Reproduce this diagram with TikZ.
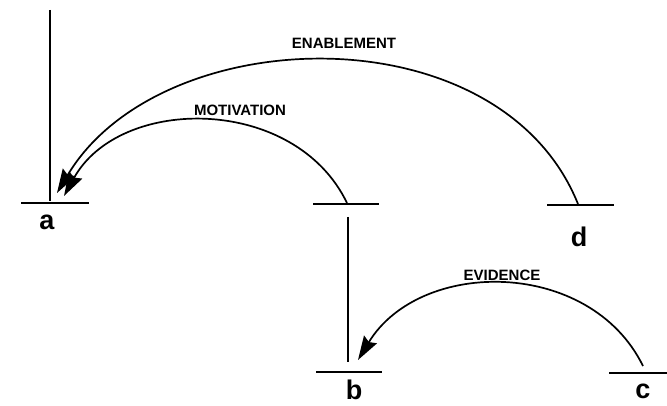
\documentclass[tikz,border=0pt]{standalone}
\usepackage{fontspec}
\setmainfont{Liberation Sans}
\usetikzlibrary{arrows.meta}
\begin{document}
\begin{tikzpicture}[x=1pt,y=-1pt,
  bar/.style={line width=1.8pt},
  stem/.style={line width=1.6pt},
  rel/.style={line width=1.7pt,-{Stealth[length=24pt,width=15pt,inset=3pt]}},
  letter/.style={font=\bfseries\fontsize{27}{27}\selectfont,anchor=base,inner sep=0pt},
  lab/.style={font=\bfseries\fontsize{15}{15}\selectfont,inner sep=0pt}]
\useasboundingbox (0,0) rectangle (667,406);
% bars
\coordinate (aL) at (21,203); \coordinate (aR) at (89,203);
\coordinate (btL) at (313,204); \coordinate (btR) at (379,204);
\coordinate (bL) at (316,372); \coordinate (bR) at (382,372);
\coordinate (cL) at (609,373); \coordinate (cR) at (667,373);
\coordinate (dL) at (547,205); \coordinate (dR) at (614,205);
\draw[bar] (aL) -- (aR);
\draw[bar] (btL) -- (btR);
\draw[bar] (bL) -- (bR);
\draw[bar] (cL) -- (cR);
\draw[bar] (dL) -- (dR);
% stems
\coordinate (aTop) at (50,10); \coordinate (aBot) at (50,201);
\coordinate (bTop) at (348,217); \coordinate (bBot) at (348,362);
\draw[stem] (aTop) -- (aBot);
\draw[stem] (bTop) -- (bBot);
% letters
\node[letter] (a) at (47,230) {a};
\node[letter] (b) at (354,399) {b};
\node[letter] (c) at (643,398) {c};
\node[letter] (d) at (579,247) {d};
% arcs
\coordinate (mS) at (347,203); \coordinate (mE) at (64,196);
\coordinate (eS) at (578,204); \coordinate (eE) at (57,193);
\coordinate (vS) at (643,366); \coordinate (vE) at (358,360);
\draw[rel] (mS) .. controls (295,95) and (120,95) .. (mE);
\draw[rel] (eS) .. controls (500,10) and (160,20) .. (eE);
\draw[rel] (vS) .. controls (590,258) and (420,258) .. (vE);
% labels
\node[lab] (lm) at (240,110) {MOTIVATION};
\node[lab] (le) at (344,43) {ENABLEMENT};
\node[lab] (lv) at (502,275) {EVIDENCE};
\end{tikzpicture}
\end{document}
